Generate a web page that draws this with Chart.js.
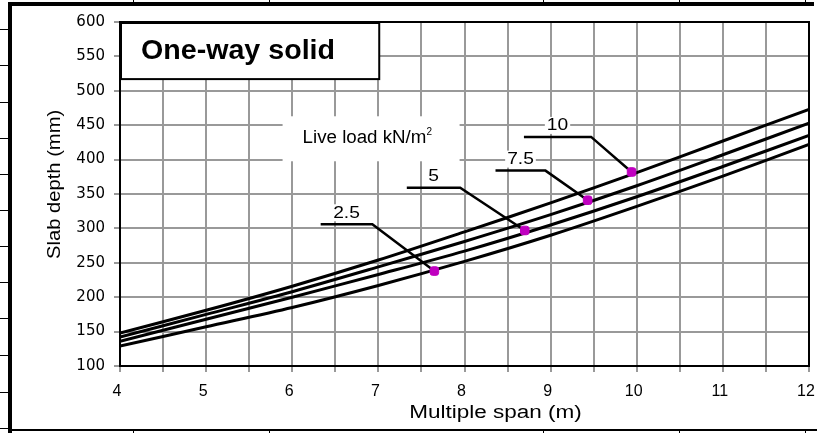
<!DOCTYPE html>
<html>
<head>
<meta charset="utf-8">
<script src="https://cdn.jsdelivr.net/npm/chart.js@4.4.0/dist/chart.umd.min.js"></script>
<style>
  body { margin: 0; background: #fff; }
  #wrap { position: relative; width: 817px; height: 433px; overflow: hidden; background: #fff; }
  #chart { position: absolute; left: 0; top: 0; }
  .ln { position: absolute; background: #000; }
</style>
</head>
<body>
<div id="wrap">
  <canvas id="chart" width="817" height="433"></canvas>
</div>
<script>
// spans (m) and slab depth (mm) per live load curve
const spans   = [4, 5, 6, 7, 8, 9, 10, 11, 12];
const depth10 = [148, 181, 216, 254, 295, 337, 381, 427, 473];
const depth75 = [142, 175, 208, 244, 281, 320, 362, 407, 453];
const depth5  = [136, 168, 200, 233, 267, 305, 346, 390, 435];
const depth25 = [129, 157, 185, 217, 252, 290, 332, 376, 422];

// curve labels with their leader lines (data coords)
const loadLabels   = ['2.5', '5', '7.5', '10'];
const markerX      = [7.65, 8.70, 9.43, 9.94];
const markerY      = [238, 297, 341, 382];
const leaderStartX = [6.33, 7.33, 8.36, 8.69];
const leaderBendX  = [6.93, 7.95, 8.94, 9.47];
const leaderY      = [306, 359, 384, 433];

const xTicks = { min: 4, max: 12, step: 0.5 };
const yTicks = { min: 100, max: 600, step: 50 };

const SANS = '"Liberation Sans", Arial, sans-serif';

// page frame (table remnants round the picture)
const wrap = document.getElementById('wrap');
function bar(l, t, w, h) {
  const d = document.createElement('div');
  d.className = 'ln';
  d.style.cssText = `left:${l}px;top:${t}px;width:${w}px;height:${h}px`;
  wrap.appendChild(d);
}
bar(8, 2, 4, 431);
bar(8, 2, 806, 4);
bar(12, 429, 805, 2);
[133, 269, 543, 679, 805].forEach(x => { bar(x, 0, 1, 3); bar(x, 430, 1, 3); });
[29, 65, 102, 138, 174, 210, 246, 282, 318, 355, 392, 428].forEach(y => bar(0, y, 8, 1));

function curve(vals) {
  return spans.map((s, i) => ({ x: s, y: vals[i] }));
}

// text squeezed/stretched sideways like the scanned original
function wideText(ctx, txt, x, y, sx) {
  ctx.save();
  ctx.translate(x, y);
  ctx.scale(sx, 1);
  ctx.fillText(txt, 0, 0);
  ctx.restore();
}

const lineStyle = { borderColor: '#000', borderWidth: 3, pointRadius: 0, tension: 0.3, fill: false };

const datasets = [];
datasets.push({
  data: markerX.map((x, i) => ({ x: x, y: markerY[i] })),
  showLine: false, pointStyle: 'rectRounded', pointRadius: 5,
  backgroundColor: '#c000c0', borderColor: '#c000c0', borderWidth: 1
});
loadLabels.forEach((lab, i) => {
  datasets.push({
    data: [{ x: leaderStartX[i], y: leaderY[i] }, { x: leaderBendX[i], y: leaderY[i] }, { x: markerX[i], y: markerY[i] }],
    borderColor: '#000', borderWidth: 2.5, pointRadius: 0, tension: 0
  });
});
[depth10, depth75, depth5, depth25].forEach(d => datasets.push(Object.assign({ data: curve(d) }, lineStyle)));

const overlay = {
  id: 'overlay',
  beforeDatasetsDraw(chart) {
    const { ctx, chartArea: a, scales: { x, y } } = chart;
    ctx.save();
    // top / right frame of the plot
    ctx.strokeStyle = '#000';
    ctx.lineWidth = 2;
    ctx.beginPath();
    ctx.moveTo(a.left, a.top); ctx.lineTo(a.right, a.top); ctx.lineTo(a.right, a.bottom);
    ctx.stroke();

    // title box
    const bx0 = x.getPixelForValue(4), bx1 = x.getPixelForValue(7.01);
    const by0 = y.getPixelForValue(600), by1 = y.getPixelForValue(517);
    ctx.fillStyle = '#fff';
    ctx.fillRect(bx0, by0, bx1 - bx0, by1 - by0);
    ctx.strokeRect(bx0 + 1, by0 + 1, bx1 - bx0 - 1, by1 - by0 - 1);
    ctx.fillStyle = '#000';
    ctx.font = 'bold 27px ' + SANS;
    ctx.textBaseline = 'alphabetic';
    ctx.textAlign = 'left';
    wideText(ctx, 'One-way solid', bx0 + 21, by0 + 37, 1.06);

    // live load caption
    const lx = x.getPixelForValue(6.12), ly = y.getPixelForValue(431);
    ctx.fillStyle = '#fff';
    ctx.fillRect(lx - 20, ly - 22, 177, 45);
    ctx.fillStyle = '#000';
    ctx.font = '18px ' + SANS;
    ctx.textBaseline = 'middle';
    const w = ctx.measureText('Live load kN/m').width * 1.04;
    wideText(ctx, 'Live load kN/m', lx, ly, 1.04);
    ctx.font = '10px ' + SANS;
    ctx.fillText('2', lx + w, ly - 6);

    // curve labels
    ctx.font = '16px ' + SANS;
    ctx.textAlign = 'center';
    loadLabels.forEach((lab, i) => {
      const cx = x.getPixelForValue((leaderStartX[i] + leaderBendX[i]) / 2);
      const cy = y.getPixelForValue(leaderY[i]) - 11;
      const tw = ctx.measureText(lab).width * 1.2;
      ctx.fillStyle = '#fff';
      ctx.fillRect(cx - tw / 2 - 2, cy - 9, tw + 4, 17);
      ctx.fillStyle = '#000';
      wideText(ctx, lab, cx, cy, 1.2);
    });
    ctx.restore();
  },
  afterDraw(chart) {
    const { ctx, chartArea: a, scales: { x, y } } = chart;
    ctx.save();
    ctx.fillStyle = '#000';
    ctx.font = '18px ' + SANS;
    ctx.textAlign = 'center';
    ctx.textBaseline = 'middle';
    wideText(ctx, 'Multiple span (m)', x.getPixelForValue(8.36), a.bottom + 47, 1.25);
    ctx.translate(a.left - 65, y.getPixelForValue(364));
    ctx.rotate(-Math.PI / 2);
    wideText(ctx, 'Slab depth (mm)', 0, 0, 1.12);
    ctx.restore();
  }
};

new Chart(document.getElementById('chart'), {
  type: 'line',
  data: { datasets: datasets },
  options: {
    responsive: false,
    animation: false,
    devicePixelRatio: 1,
    layout: { padding: { top: 22, right: 8, left: 0, bottom: 0 } },
    plugins: { legend: { display: false }, tooltip: { enabled: false } },
    scales: {
      x: {
        type: 'linear',
        min: xTicks.min, max: xTicks.max,
        afterFit(s) { s.height = 67; s.paddingLeft = 0; s.paddingRight = 0; },
        border: { color: '#000', width: 2 },
        grid: { color: '#999', lineWidth: 2, tickLength: 6 },
        ticks: {
          stepSize: xTicks.step,
          color: '#000',
          padding: 10,
          labelOffset: -3,
          maxRotation: 0,
          autoSkip: false,
          font: { family: '"Liberation Sans", Arial, sans-serif', size: 16 },
          callback: v => Number.isInteger(v) ? String(v) : ''
        }
      },
      y: {
        min: yTicks.min, max: yTicks.max,
        afterFit(s) { s.width = 120; s.paddingTop = 0; s.paddingBottom = 0; },
        border: { color: '#000', width: 2 },
        grid: { color: '#999', lineWidth: 2, tickLength: 6 },
        ticks: {
          stepSize: yTicks.step,
          color: '#000',
          padding: 9,
          font: { family: '"DejaVu Sans", sans-serif', size: 15 }
        }
      }
    }
  },
  plugins: [overlay]
});
</script>
</body>
</html>
